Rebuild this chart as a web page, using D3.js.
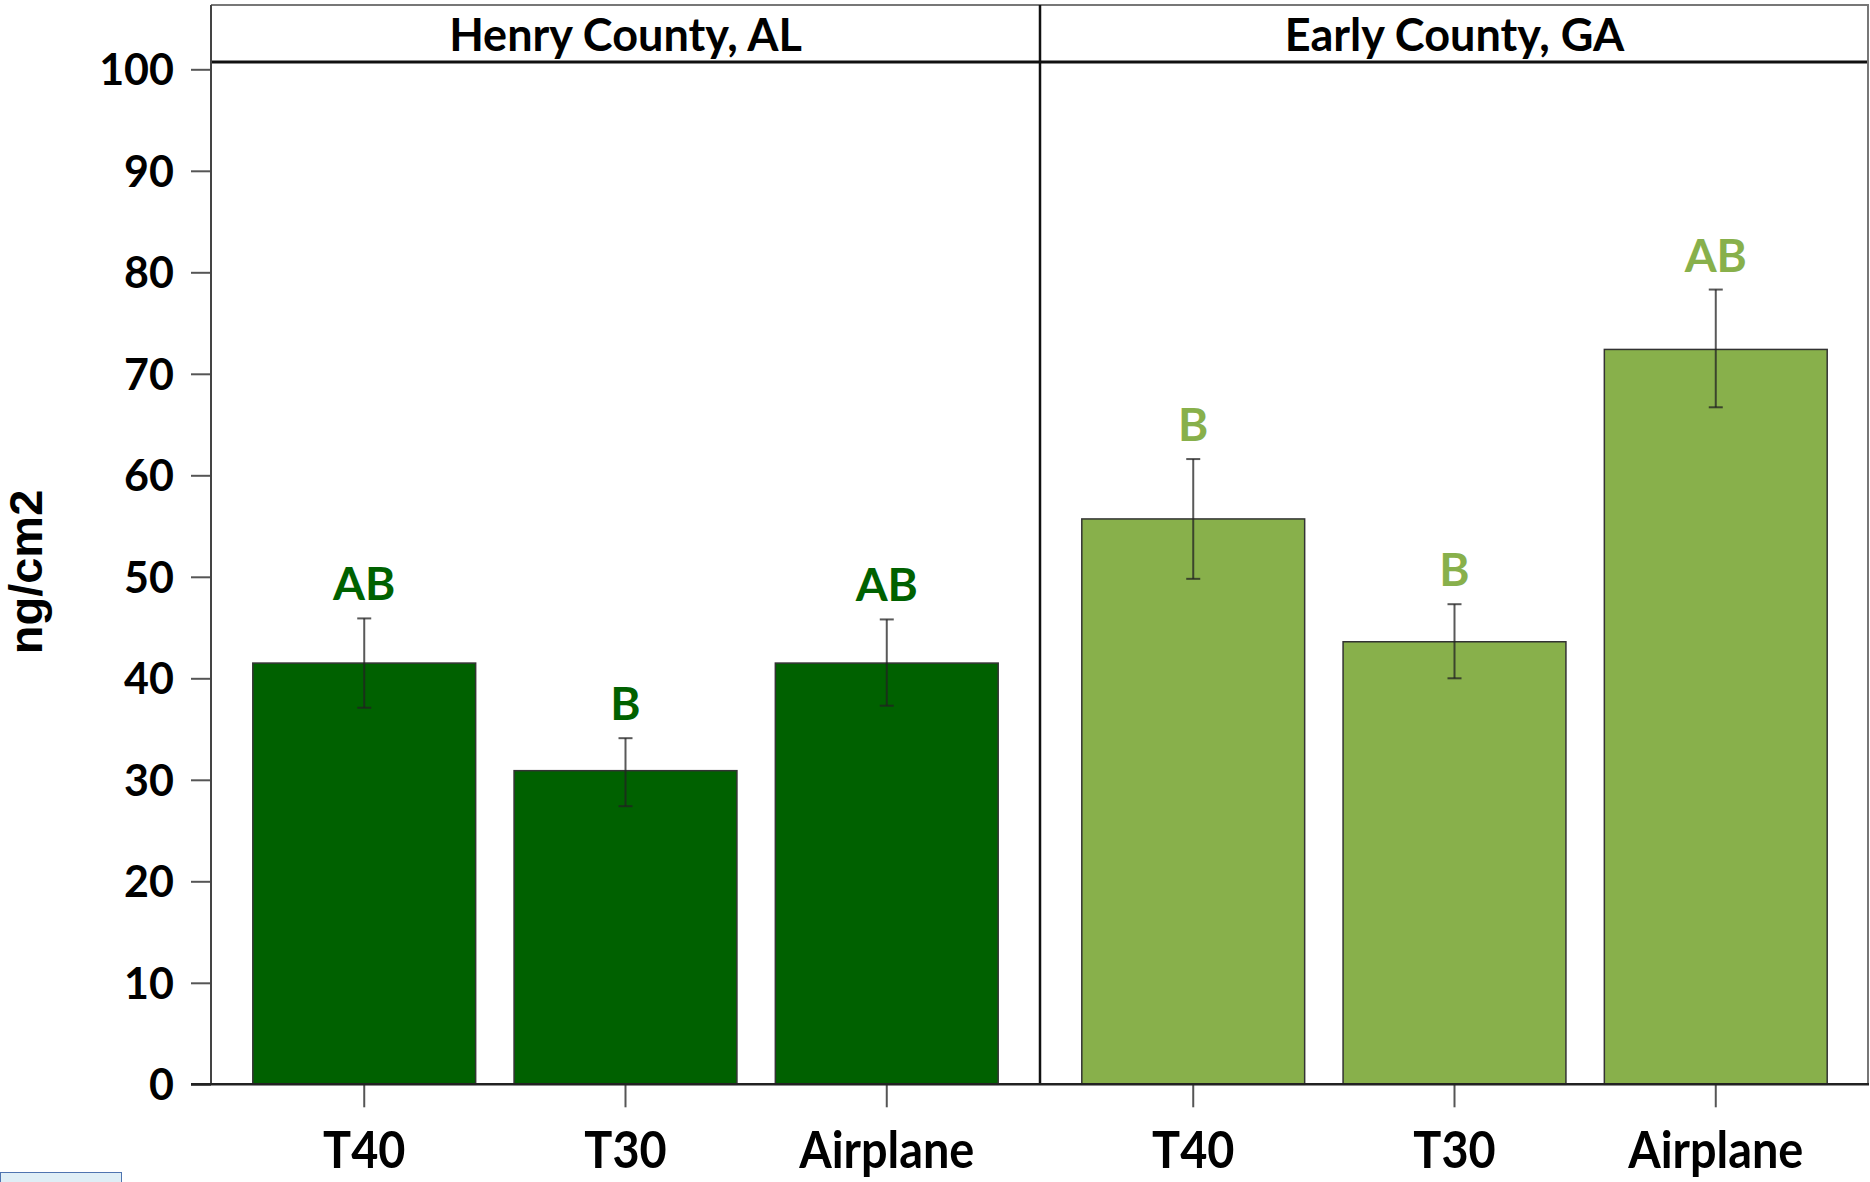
<!DOCTYPE html>
<html>
<head>
<meta charset="utf-8">
<script src="https://cdn.jsdelivr.net/npm/d3@7"></script>
<style>
  body { margin: 0; background: #fff; }
  svg text { font-family: Lato, "DejaVu Sans", sans-serif; font-weight: bold; }
</style>
</head>
<body>
<svg width="1870" height="1182"></svg>
<script>
// data
const panels = ["Henry County, AL", "Early County, GA"];
const treatments = ["T40", "T30", "Airplane"];
const henryMean = [41.5, 30.9, 41.5];
const henryLow = [37.1, 27.4, 37.3];
const henryHigh = [45.9, 34.1, 45.8];
const henryLetters = ["AB", "B", "AB"];
const earlyMean = [55.7, 43.6, 72.4];
const earlyLow = [49.8, 40.0, 66.7];
const earlyHigh = [61.6, 47.3, 78.3];
const earlyLetters = ["B", "B", "AB"];
const yTicks = [0, 10, 20, 30, 40, 50, 60, 70, 80, 90, 100];
const panelColors = ["#006100", "#88b04b"];

const series = [
  { name: panels[0], mean: henryMean, low: henryLow, high: henryHigh, letters: henryLetters, color: panelColors[0] },
  { name: panels[1], mean: earlyMean, low: earlyLow, high: earlyHigh, letters: earlyLetters, color: panelColors[1] }
];

const svg = d3.select("svg");
const pLeft = 211, pRight = 1869, pTop = 5, stripBottom = 62;

let y = d3.scaleLinear().domain([0, 100]).range([1084.3, 69.3]);
let px = d3.scaleBand(panels, [pLeft, pRight]);

// y axis
let yAx = svg.append("g")
    .attr("transform", "translate(" + pLeft + ",0)")
    .call(d3.axisLeft(y).tickValues(yTicks).tickSize(20).tickPadding(17));
yAx.select(".domain").remove();
yAx.selectAll(".tick line").attr("stroke", "#555").attr("stroke-width", 2);
yAx.selectAll(".tick text").attr("font-size", 43).attr("fill", "#000")
    .attr("dy", "0.36em");

svg.append("text")
    .attr("transform", "translate(42,572) rotate(-90)")
    .attr("text-anchor", "middle")
    .style("font-family", "'Liberation Sans', Arial, sans-serif")
    .attr("font-size", 47)
    .text("ng/cm2");

series.forEach(s => {
  let x0 = px(s.name), x1 = x0 + px.bandwidth();
  let x = d3.scaleBand(treatments, [x0, x1]).paddingInner(0.147).paddingOuter(0.16);
  let g = svg.append("g");

  g.selectAll("rect.bar").data(treatments).join("rect")
      .attr("class", "bar")
      .attr("x", d => x(d))
      .attr("width", x.bandwidth())
      .attr("y", (d, i) => y(s.mean[i]))
      .attr("height", (d, i) => y(0) - y(s.mean[i]))
      .attr("fill", s.color)
      .attr("stroke", "#333")
      .attr("stroke-width", 1.5);

  let cx = d => x(d) + x.bandwidth() / 2;
  let eb = g.selectAll("g.err").data(treatments).join("g").attr("class", "err")
      .attr("stroke", "#222").attr("stroke-opacity", 0.75).attr("stroke-width", 2);
  eb.append("line").attr("x1", cx).attr("x2", cx)
      .attr("y1", (d, i) => y(s.low[i])).attr("y2", (d, i) => y(s.high[i]));
  eb.append("line").attr("x1", d => cx(d) - 7).attr("x2", d => cx(d) + 7)
      .attr("y1", (d, i) => y(s.high[i])).attr("y2", (d, i) => y(s.high[i]));
  eb.append("line").attr("x1", d => cx(d) - 7).attr("x2", d => cx(d) + 7)
      .attr("y1", (d, i) => y(s.low[i])).attr("y2", (d, i) => y(s.low[i]));

  g.selectAll("text.letter").data(treatments).join("text")
      .attr("class", "letter")
      .attr("x", cx)
      .attr("y", (d, i) => y(s.high[i]) - 18)
      .attr("text-anchor", "middle")
      .attr("font-size", 46)
      .attr("fill", s.color)
      .text((d, i) => s.letters[i]);

  // x axis ticks + labels (squeezed a bit, the original font is narrow)
  let xAx = svg.append("g")
      .attr("transform", "translate(0," + y(0) + ")")
      .call(d3.axisBottom(x).tickSize(23).tickPadding(24));
  xAx.select(".domain").remove();
  xAx.selectAll(".tick line").attr("stroke", "#555").attr("stroke-width", 2);
  xAx.selectAll(".tick text").attr("font-size", 52).attr("fill", "#000")
      .attr("transform", "scale(0.9,1)");

  // strip
  svg.append("text")
      .attr("x", (x0 + x1) / 2)
      .attr("y", 51)
      .attr("text-anchor", "middle")
      .attr("font-size", 45)
      .text(s.name);
});

// frame
svg.append("line").attr("x1", pLeft).attr("x2", pRight).attr("y1", pTop).attr("y2", pTop)
    .attr("stroke", "#777").attr("stroke-width", 2);
svg.append("line").attr("x1", pLeft).attr("x2", pRight).attr("y1", stripBottom).attr("y2", stripBottom)
    .attr("stroke", "#111").attr("stroke-width", 3);
svg.append("line").attr("x1", pLeft).attr("x2", pLeft).attr("y1", pTop).attr("y2", y(0))
    .attr("stroke", "#444").attr("stroke-width", 2);
svg.append("line").attr("x1", px(panels[1])).attr("x2", px(panels[1])).attr("y1", pTop).attr("y2", y(0))
    .attr("stroke", "#111").attr("stroke-width", 2.5);
svg.append("line").attr("x1", pRight - 1).attr("x2", pRight - 1).attr("y1", pTop).attr("y2", y(0))
    .attr("stroke", "#777").attr("stroke-width", 2);
svg.append("line").attr("x1", pLeft - 20).attr("x2", pRight).attr("y1", y(0)).attr("y2", y(0))
    .attr("stroke", "#222").attr("stroke-width", 2.5);

// little leftover box in the corner of the screenshot
svg.append("rect").attr("x", 0.5).attr("y", 1172.5).attr("width", 121).attr("height", 12)
    .attr("fill", "#dfeef6").attr("stroke", "#4f74b0").attr("stroke-width", 1);
</script>
</body>
</html>
